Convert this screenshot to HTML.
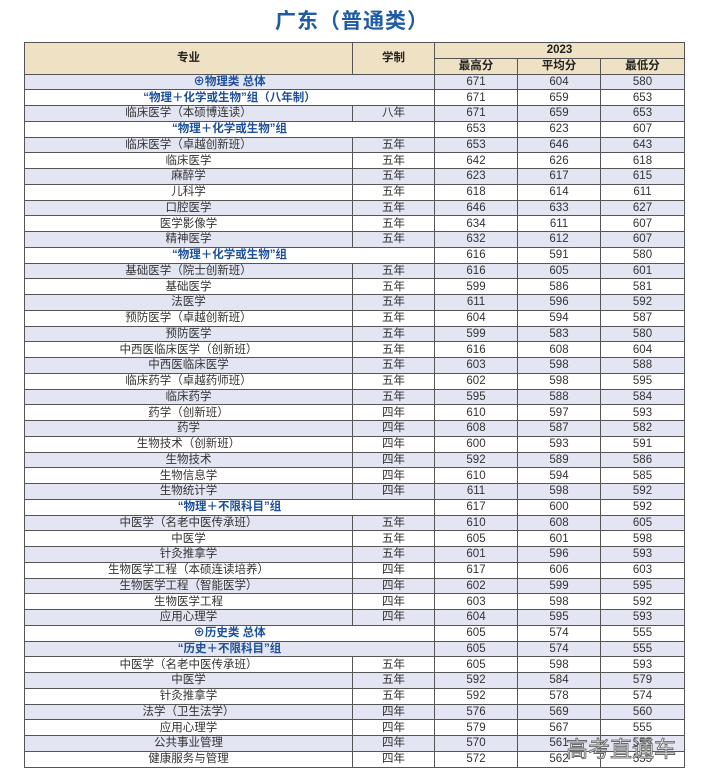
<!DOCTYPE html>
<html><head><meta charset="utf-8"><style>
body{margin:0;background:#fff;width:704px;height:783px;position:relative;overflow:hidden;font-family:"Liberation Sans","Noto Sans CJK SC",sans-serif;}
.t{position:absolute;left:0;width:704px;top:5px;text-align:center;color:#1d5ba4;font-size:21px;font-weight:bold;letter-spacing:1px}
table{position:absolute;left:24px;top:42px;border-collapse:collapse;table-layout:fixed;width:660px;font-size:11.5px;color:#333}
td{border:1px solid #555;height:14.75px;padding:0;text-align:center;line-height:14px;white-space:nowrap;overflow:hidden;vertical-align:middle}
thead td{background:#efe2c4;color:#222;font-weight:bold}
tbody tr:nth-child(odd) td{background:#e3e5f2}
.g{color:#1d4f9a;font-weight:bold}
.wm{position:absolute;left:566px;top:732px;font-size:22px;color:#fff;-webkit-text-stroke:0.9px #666;}
</style></head><body>
<div class="t">广东（普通类）</div>
<table>
<colgroup><col style="width:328px"><col style="width:82px"><col style="width:83px"><col style="width:83px"><col style="width:84px"></colgroup>
<thead>
<tr><td rowspan="2">专业</td><td rowspan="2">学制</td><td colspan="3">2023</td></tr>
<tr><td>最高分</td><td>平均分</td><td>最低分</td></tr>
</thead>
<tbody>
<tr><td colspan="2" class="g">⊕物理类 总体</td><td>671</td><td>604</td><td>580</td></tr>
<tr><td colspan="2" class="g">“物理＋化学或生物”组（八年制）</td><td>671</td><td>659</td><td>653</td></tr>
<tr><td>临床医学（本硕博连读）</td><td>八年</td><td>671</td><td>659</td><td>653</td></tr>
<tr><td colspan="2" class="g">“物理＋化学或生物”组</td><td>653</td><td>623</td><td>607</td></tr>
<tr><td>临床医学（卓越创新班）</td><td>五年</td><td>653</td><td>646</td><td>643</td></tr>
<tr><td>临床医学</td><td>五年</td><td>642</td><td>626</td><td>618</td></tr>
<tr><td>麻醉学</td><td>五年</td><td>623</td><td>617</td><td>615</td></tr>
<tr><td>儿科学</td><td>五年</td><td>618</td><td>614</td><td>611</td></tr>
<tr><td>口腔医学</td><td>五年</td><td>646</td><td>633</td><td>627</td></tr>
<tr><td>医学影像学</td><td>五年</td><td>634</td><td>611</td><td>607</td></tr>
<tr><td>精神医学</td><td>五年</td><td>632</td><td>612</td><td>607</td></tr>
<tr><td colspan="2" class="g">“物理＋化学或生物”组</td><td>616</td><td>591</td><td>580</td></tr>
<tr><td>基础医学（院士创新班）</td><td>五年</td><td>616</td><td>605</td><td>601</td></tr>
<tr><td>基础医学</td><td>五年</td><td>599</td><td>586</td><td>581</td></tr>
<tr><td>法医学</td><td>五年</td><td>611</td><td>596</td><td>592</td></tr>
<tr><td>预防医学（卓越创新班）</td><td>五年</td><td>604</td><td>594</td><td>587</td></tr>
<tr><td>预防医学</td><td>五年</td><td>599</td><td>583</td><td>580</td></tr>
<tr><td>中西医临床医学（创新班）</td><td>五年</td><td>616</td><td>608</td><td>604</td></tr>
<tr><td>中西医临床医学</td><td>五年</td><td>603</td><td>598</td><td>588</td></tr>
<tr><td>临床药学（卓越药师班）</td><td>五年</td><td>602</td><td>598</td><td>595</td></tr>
<tr><td>临床药学</td><td>五年</td><td>595</td><td>588</td><td>584</td></tr>
<tr><td>药学（创新班）</td><td>四年</td><td>610</td><td>597</td><td>593</td></tr>
<tr><td>药学</td><td>四年</td><td>608</td><td>587</td><td>582</td></tr>
<tr><td>生物技术（创新班）</td><td>四年</td><td>600</td><td>593</td><td>591</td></tr>
<tr><td>生物技术</td><td>四年</td><td>592</td><td>589</td><td>586</td></tr>
<tr><td>生物信息学</td><td>四年</td><td>610</td><td>594</td><td>585</td></tr>
<tr><td>生物统计学</td><td>四年</td><td>611</td><td>598</td><td>592</td></tr>
<tr><td colspan="2" class="g">“物理＋不限科目”组</td><td>617</td><td>600</td><td>592</td></tr>
<tr><td>中医学（名老中医传承班）</td><td>五年</td><td>610</td><td>608</td><td>605</td></tr>
<tr><td>中医学</td><td>五年</td><td>605</td><td>601</td><td>598</td></tr>
<tr><td>针灸推拿学</td><td>五年</td><td>601</td><td>596</td><td>593</td></tr>
<tr><td>生物医学工程（本硕连读培养）</td><td>四年</td><td>617</td><td>606</td><td>603</td></tr>
<tr><td>生物医学工程（智能医学）</td><td>四年</td><td>602</td><td>599</td><td>595</td></tr>
<tr><td>生物医学工程</td><td>四年</td><td>603</td><td>598</td><td>592</td></tr>
<tr><td>应用心理学</td><td>四年</td><td>604</td><td>595</td><td>593</td></tr>
<tr><td colspan="2" class="g">⊕历史类 总体</td><td>605</td><td>574</td><td>555</td></tr>
<tr><td colspan="2" class="g">“历史＋不限科目”组</td><td>605</td><td>574</td><td>555</td></tr>
<tr><td>中医学（名老中医传承班）</td><td>五年</td><td>605</td><td>598</td><td>593</td></tr>
<tr><td>中医学</td><td>五年</td><td>592</td><td>584</td><td>579</td></tr>
<tr><td>针灸推拿学</td><td>五年</td><td>592</td><td>578</td><td>574</td></tr>
<tr><td>法学（卫生法学）</td><td>四年</td><td>576</td><td>569</td><td>560</td></tr>
<tr><td>应用心理学</td><td>四年</td><td>579</td><td>567</td><td>555</td></tr>
<tr><td>公共事业管理</td><td>四年</td><td>570</td><td>561</td><td>555</td></tr>
<tr><td>健康服务与管理</td><td>四年</td><td>572</td><td>562</td><td>555</td></tr>
</tbody>
</table>
<div class="wm">高考直通车</div>
</body></html>
